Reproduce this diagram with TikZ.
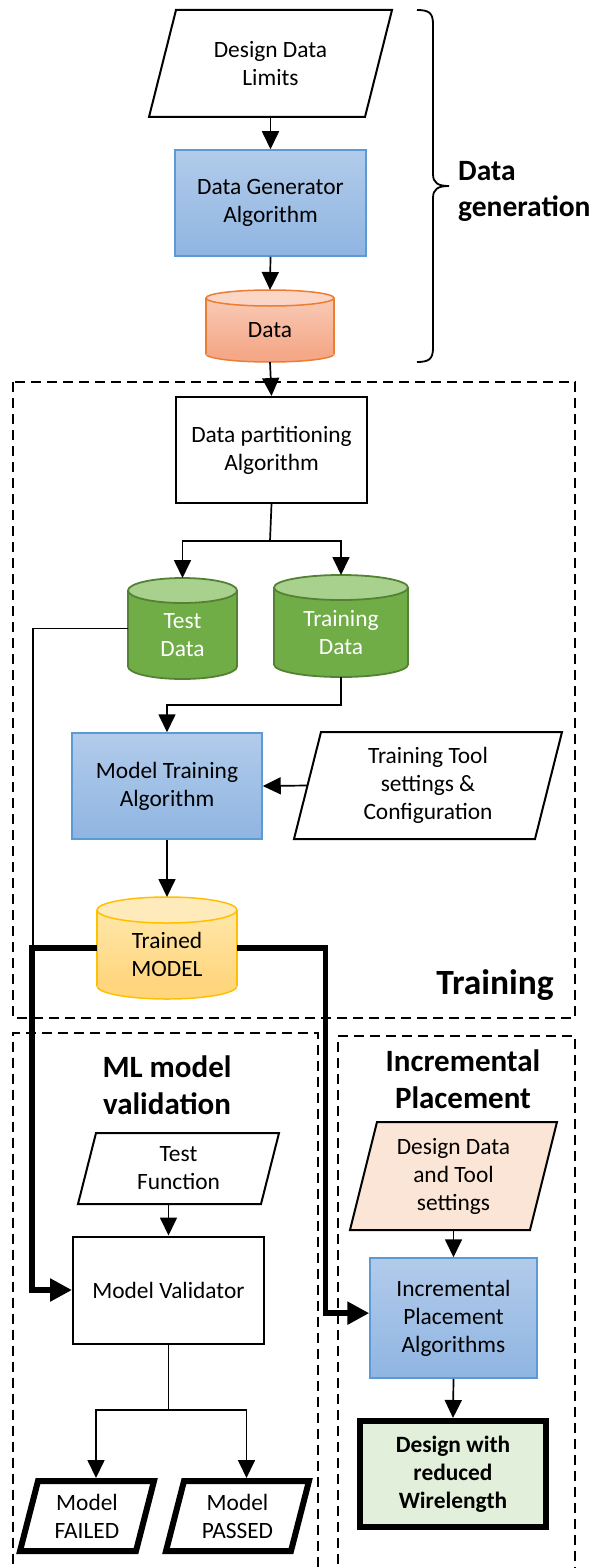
\documentclass[tikz,border=0pt]{standalone}
\usepackage{fontspec}
\setmainfont{Carlito}
\usetikzlibrary{arrows.meta,calc,backgrounds}

\definecolor{blueTop}{RGB}{178,203,234}
\definecolor{blueBot}{RGB}{143,181,226}
\definecolor{blueLine}{RGB}{91,155,213}
\definecolor{orTop}{RGB}{249,202,181}
\definecolor{orBot}{RGB}{244,168,136}
\definecolor{orEnd}{RGB}{251,214,198}
\definecolor{orLine}{RGB}{237,125,49}
\definecolor{grBody}{RGB}{112,173,71}
\definecolor{grEnd}{RGB}{169,209,142}
\definecolor{grLine}{RGB}{84,130,53}
\definecolor{yeTop}{RGB}{255,231,168}
\definecolor{yeBot}{RGB}{255,213,125}
\definecolor{yeEnd}{RGB}{255,234,187}
\definecolor{yeLine}{RGB}{255,192,0}
\definecolor{peach}{RGB}{251,229,214}
\definecolor{paleGreen}{RGB}{226,239,218}

\tikzset{
  txt/.style={font=\fontsize{23.4}{28}\selectfont, align=center, inner sep=0pt},
  plainbox/.style={txt, draw=black, line width=2pt, fill=white},
  algo/.style={txt, draw=blueLine, line width=1.5pt, top color=blueTop, bottom color=blueBot},
  result/.style={txt, font=\fontsize{23.4}{28}\selectfont\bfseries, draw=black, line width=6pt, fill=paleGreen},
  slantnode/.style={txt, outer sep=0pt},
  slantwhite/.style={draw=black, line width=2pt, fill=white},
  slantpeach/.style={draw=black, line width=2pt, fill=peach},
  slantbold/.style={draw=black, line width=6pt, fill=white},
  head/.style={font=\fontsize{31}{37.5}\selectfont\bfseries, align=center, inner sep=0pt},
  dashbox/.style={draw=black, line width=2pt, dash pattern=on 10pt off 6pt},
  conn/.style={line width=1.7pt},
  arr/.style={conn, -{Triangle[length=18pt,width=17pt]}},
  bus/.style={line width=5.5pt},
  busarr/.style={bus, -{Triangle[length=22pt,width=22pt]}},
  % database drums
  orange base/.style={fill=orBot, draw=orLine, line width=1.5pt},
  orange body/.style={top color=orTop, bottom color=orBot},
  orange side/.style={draw=orLine, line width=1.5pt},
  orange end/.style={fill=orEnd, draw=orLine, line width=1.5pt},
  orange text/.style={text=black},
  green base/.style={fill=grBody, draw=grLine, line width=1.8pt},
  green body/.style={fill=grBody},
  green side/.style={draw=grLine, line width=1.8pt},
  green end/.style={fill=grEnd, draw=grLine, line width=1.8pt},
  green text/.style={text=white},
  yellow base/.style={fill=yeBot, draw=yeLine, line width=1.5pt},
  yellow body/.style={top color=yeTop, bottom color=yeBot},
  yellow side/.style={draw=yeLine, line width=1.5pt},
  yellow end/.style={fill=yeEnd, draw=yeLine, line width=1.5pt},
  yellow text/.style={text=black},
}

% parallelogram behind a named node: name, slant, style
\newcommand\slantpath[3]{%
  \begin{pgfonlayer}{background}
    \path[#3] ($(#1.north west)+(#2,0)$) -- (#1.north east)
      -- ($(#1.south east)-(#2,0)$) -- (#1.south west) -- cycle;
  \end{pgfonlayer}}

% database drum: name, cx, top, bottom, rx, ry, colour set, text
\newcommand\drum[8]{%
  \node[inner sep=0pt, outer sep=0pt, minimum width={2*#5}, minimum height={#4-#3}] (#1) at ({#2},{(#3+#4)/2}) {};
  \begin{pgfonlayer}{background}
    \path[#7 base] ({#2},{#4-#6}) ellipse [x radius=#5, y radius=#6];
    \path[#7 body] ({#2-#5},{#3+#6}) rectangle ({#2+#5},{#4-#6});
    \path[#7 side] ({#2-#5},{#3+#6}) -- ({#2-#5},{#4-#6}) ({#2+#5},{#3+#6}) -- ({#2+#5},{#4-#6});
    \path[#7 end] ({#2},{#3+#6}) ellipse [x radius=#5, y radius=#6];
  \end{pgfonlayer}
  \node[txt, #7 text] (#1-label) at ({#2},{(#3+#6+#4)/2}) {#8};
}

\begin{document}
\begin{tikzpicture}[x=1pt, y=-1pt]
\useasboundingbox (0,0) rectangle (600,1568);

% stage frames
\begin{pgfonlayer}{background}
  \path[dashbox] (13,382) rectangle (575,1018);
  \path[dashbox] (13,1580) -- (13,1033) -- (318,1033) -- (318,1580);
  \path[dashbox] (338,1580) -- (338,1036) -- (575,1036) -- (575,1580);
\end{pgfonlayer}

% ---- data generation ----
\node[slantnode, minimum width=243, minimum height=107] (ddl) at (270.5,63.5) {Design Data\\Limits};
\slantpath{ddl}{27}{slantwhite}
\node[algo, minimum width=191, minimum height=106] (dga) at (270.5,203) {Data Generator\\Algorithm};
\drum{data}{270}{290}{362}{64}{8}{orange}{Data}

\draw[line width=1.8pt] (417,10) .. controls (429,10) and (433,13) .. (433,24)
  -- (433,174) .. controls (433,183) and (438,186) .. (449,186)
  .. controls (438,186) and (433,189) .. (433,198)
  -- (433,348) .. controls (433,359) and (429,362) .. (417,362);
\node[head, font=\fontsize{29.5}{36}\selectfont\bfseries, anchor=west, align=left] (hgen) at (458,191) {Data\\generation};

\draw[arr] (ddl.south) -- (dga.north);
\draw[arr] (dga.south) -- (data.north);

% ---- training ----
\node[plainbox, minimum width=191, minimum height=106] (dpa) at (271.5,450) {Data partitioning\\Algorithm};
\drum{testdata}{182.5}{578}{679}{54.5}{12.5}{green}{Test\\Data}
\drum{traindata}{341}{575}{677}{67}{12.5}{green}{Training\\Data}
\node[algo, minimum width=190, minimum height=106] (mta) at (167,786) {Model Training\\Algorithm};
\node[slantnode, minimum width=268, minimum height=107] (tts) at (428,785.5) {Training Tool\\settings \&\\Configuration};
\slantpath{tts}{27}{slantwhite}
\drum{model}{167}{897}{999}{70}{13}{yellow}{Trained\\MODEL}
\node[head, font=\fontsize{35.5}{42}\selectfont\bfseries] (htrain) at (495,985) {Training};

\draw[arr] (data.south) -- (dpa.north);
\coordinate (split1) at (270,541);
\draw[conn] (dpa.south) -- (split1);
\draw[arr] (split1) -| (testdata.north);
\draw[arr] (split1) -| (traindata.north);
\coordinate (bend1) at (341,705);
\draw[arr] (traindata.south) -- (bend1) -| (mta.north);
\draw[arr] ($(tts.west)+(13.5,0)$) -- (mta.east);
\draw[arr] (mta.south) -- (model.north);

% ---- validation ----
\node[head] (hval) at (167,1085) {ML model\\validation};
\node[slantnode, minimum width=201, minimum height=71] (tf) at (178.5,1168.5) {Test\\Function};
\slantpath{tf}{18}{slantwhite}
\node[plainbox, minimum width=191, minimum height=107] (mv) at (168.5,1290) {Model Validator};
\node[slantnode, minimum width=134, minimum height=70] (mf) at (87,1516) {Model\\FAILED};
\slantpath{mf}{18}{slantbold}
\node[slantnode, minimum width=143, minimum height=70] (mp) at (237.5,1516) {Model\\PASSED};
\slantpath{mp}{18}{slantbold}

\draw[arr] (mv.north |- tf.south) -- (mv.north);
\coordinate (split2) at (168.5,1410);
\draw[conn] (mv.south) -- (split2);
\draw[arr] (split2) -| ($(mf.north)+(9,-3)$);
\draw[arr] (split2) -| ($(mp.north)+(9,-3)$);

% ---- incremental placement ----
\node[head] (hinc) at (463,1079) {Incremental\\Placement};
\node[slantnode, minimum width=207, minimum height=108] (dts) at (453.5,1176) {Design Data\\and Tool\\settings};
\slantpath{dts}{27}{slantpeach}
\node[algo, minimum width=167, minimum height=120] (ipa) at (453.5,1318) {Incremental\\Placement\\Algorithms};
\node[result, minimum width=186, minimum height=106] (dwr) at (453,1474) {Design with\\reduced\\Wirelength};

\draw[arr] (dts.south) -- (ipa.north);
\draw[arr] (ipa.south) -- (dwr.north);

% ---- links between stages ----
\draw[conn] (testdata.west) -| ($(model.west)-(64,0)$);
\draw[busarr] (model.west) -| ($(mv.west)-(40,0)$) -- (mv.west);
\coordinate (ipain) at ($(ipa.north west)!0.46!(ipa.south west)$);
\draw[busarr] (model.east) -| ($(ipain)-(44,0)$) -- (ipain);

\end{tikzpicture}
\end{document}
